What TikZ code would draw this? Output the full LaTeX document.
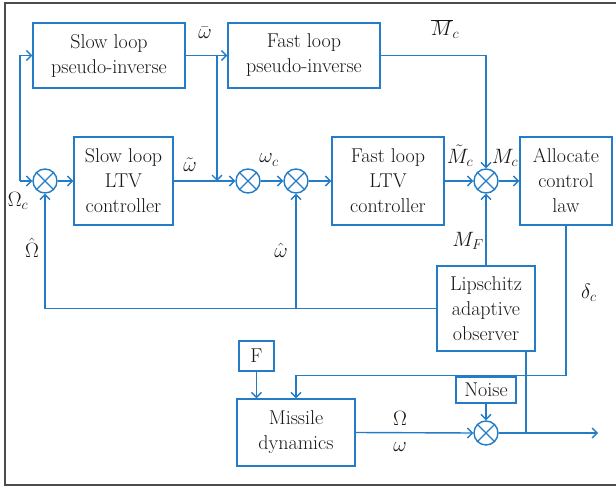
\documentclass[tikz,border=0pt]{standalone}
\usepackage{tikz}
\usetikzlibrary{arrows.meta}

\definecolor{lineblue}{RGB}{36,124,198}
\definecolor{inkgray}{RGB}{25,22,23}

\begin{document}
\begin{tikzpicture}[x=1pt,y=-1pt,
    font=\fontsize{20}{25}\selectfont, text=inkgray,
    >={Straight Barb[length=5pt,width=10pt]},
    blk/.style={draw=lineblue, line width=1.4pt, align=center, inner sep=0pt},
    sumj/.style={draw=lineblue, line width=1.4pt, circle, minimum size=24pt, inner sep=0pt},
    sig/.style={draw=lineblue, line width=1.4pt},
    lbl/.style={inner sep=1pt}]
    \useasboundingbox (0,0) rectangle (616,487);
    \draw[gray!60!black, line width=1.5pt] (616,3) -| (5,485) -- (616,485);

    % blocks
    \node[blk, minimum width=152pt, minimum height=65pt] (spi) at (109,55.5) {Slow loop\\pseudo-inverse};
    \node[blk, minimum width=152pt, minimum height=65pt] (fpi) at (304,55.5) {Fast loop\\pseudo-inverse};
    \node[blk, minimum width=99pt, minimum height=88pt] (sltv) at (123.5,181) {Slow loop\\LTV\\controller};
    \node[blk, minimum width=112pt, minimum height=88pt] (fltv) at (388,181) {Fast loop\\LTV\\controller};
    \node[blk, minimum width=92pt, minimum height=88pt] (alloc) at (566,181) {Allocate\\control\\law};
    \node[blk, minimum width=98pt, minimum height=85pt] (obs) at (486,308.5) {Lipschitz\\adaptive\\observer};
    \node[blk, minimum width=35pt, minimum height=30pt] (F) at (256.5,356) {F};
    \node[blk, minimum width=118pt, minimum height=67pt] (mis) at (296,432.5) {Missile\\dynamics};
    \node[blk, minimum width=60pt, minimum height=26pt] (noise) at (486,390) {Noise};

    % summing junctions
    \node[sumj] (s1) at (45,181) {};
    \node[sumj] (s2) at (248,181) {};
    \node[sumj] (s3) at (296,181) {};
    \node[sumj] (s4) at (486,181) {};
    \node[sumj] (s5) at (486,433) {};
    \foreach \s in {s1, s2, s3, s4, s5}{
      \draw[sig] (\s.north west) -- (\s.south east) (\s.north east) -- (\s.south west);
    }

    \coordinate (om) at (20,181);
    \coordinate (wbar) at (217,55.5);
    \coordinate (tap) at (526,433);
    \coordinate (out) at (598,433);

    % signals
    \draw[sig,->] (om) |- (spi.west);
    \draw[sig,->] (om) -- (s1.west);
    \draw[sig,->] (spi.east) -- (fpi.west);
    \draw[sig,->] (wbar) -- (wbar |- sltv.east);
    \draw[sig,->] (s1.east) -- (sltv.west);
    \draw[sig,->] (sltv.east) -- (s2.west);
    \draw[sig,->] (s2.east) -- (s3.west);
    \draw[sig,->] (s3.east) -- (fltv.west);
    \draw[sig,->] (fltv.east) -- (s4.west);
    \draw[sig,->] (fpi.east) -| (s4.north);
    \draw[sig,->] (s4.east) -- (alloc.west);
    \draw[sig,->] (obs.north) -- (s4.south);
    \draw[sig,->] (obs.west) -| (s1.south);
    \draw[sig,->] (s3 |- obs.west) -- (s3.south);
    \draw[sig,->] (alloc.south) -- ++(0,150) -| (mis.north);
    \draw[sig,->] (F.south) -- (F.south |- mis.north);
    \draw[sig,->] (mis.east) -- (s5.west);
    \draw[sig,->] (noise.south) -- (s5.north);
    \draw[sig,->] (s5.east) -- (out);
    \draw[sig] (tap) -- (tap |- obs.south);

    % signal labels
    \node[lbl] (lOmc) at (18,201) {$\Omega_c$};
    \node[lbl] (lwbar) at (205,33) {$\bar{\omega}$};
    \node[lbl] (lwtil) at (190,165) {$\tilde{\omega}$};
    \node[lbl] (lwc) at (269,160) {$\omega_c$};
    \node[lbl] (lOmh) at (32,248) {$\hat{\Omega}$};
    \node[lbl] (lwh) at (281,250) {$\hat{\omega}$};
    \node[lbl] (lMbar) at (445,29) {$\overline{M}_c$};
    \node[lbl] (lMtil) at (460,156) {$\tilde{M}_c$};
    \node[lbl] (lMc) at (505,158) {$M_c$};
    \node[lbl] (lMF) at (468,241) {$M_F$};
    \node[lbl] (ldc) at (589,293) {$\delta_c$};
    \node[lbl] (lOm) at (400,418) {$\Omega$};
    \node[lbl] (lw) at (400,447) {$\omega$};
\end{tikzpicture}
\end{document}
